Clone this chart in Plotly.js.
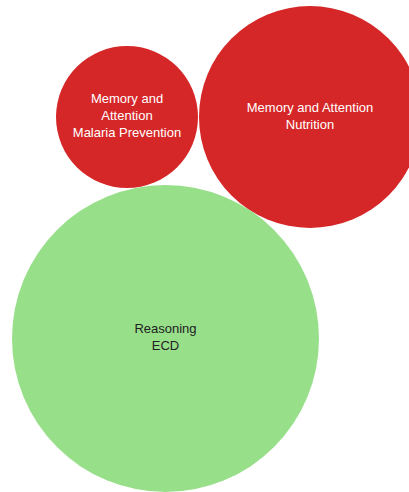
<!DOCTYPE html>
<html>
<head>
<meta charset="utf-8">
<script src="https://cdn.plot.ly/plotly-3.0.1.min.js"></script>
<style>html,body{margin:0;padding:0;background:#fff;}#chart{width:409px;height:492px;}</style>
</head>
<body>
<div id="chart"></div>
<script>
// Bubble data
var labels = ["Memory and<br>Attention<br>Malaria Prevention", "Memory and Attention<br>Nutrition", "Reasoning<br>ECD"];
var xValues = [127, 310, 165.5];
var yValues = [117, 117, 338.5];
var bubbleValues = [142, 222, 307];
var groups = ["Memory and Attention", "Memory and Attention", "Reasoning"];

var groupColor = {"Memory and Attention": "#d62728", "Reasoning": "#98df8a"};
var groupText = {"Memory and Attention": "#ffffff", "Reasoning": "#222222"};

var trace = {
  type: "scatter",
  mode: "markers+text",
  x: xValues,
  y: yValues,
  text: labels,
  textposition: "middle center",
  textfont: {family: "Arial, 'Liberation Sans', sans-serif", size: 13, color: groups.map(function(g){return groupText[g];})},
  marker: {
    size: bubbleValues,
    sizemode: "diameter",
    sizeref: 1,
    color: groups.map(function(g){return groupColor[g];}),
    opacity: 1,
    line: {width: 0}
  },
  hoverinfo: "none",
  cliponaxis: true
};

var layout = {
  width: 409,
  height: 492,
  margin: {l: 0, r: 0, t: 0, b: 0, pad: 0},
  paper_bgcolor: "#ffffff",
  plot_bgcolor: "#ffffff",
  showlegend: false,
  hovermode: false,
  xaxis: {range: [0, 409], visible: false, showgrid: false, zeroline: false, fixedrange: true},
  yaxis: {range: [492, 0], visible: false, showgrid: false, zeroline: false, fixedrange: true}
};

Plotly.newPlot("chart", [trace], layout, {staticPlot: true, displayModeBar: false});
</script>
</body>
</html>
